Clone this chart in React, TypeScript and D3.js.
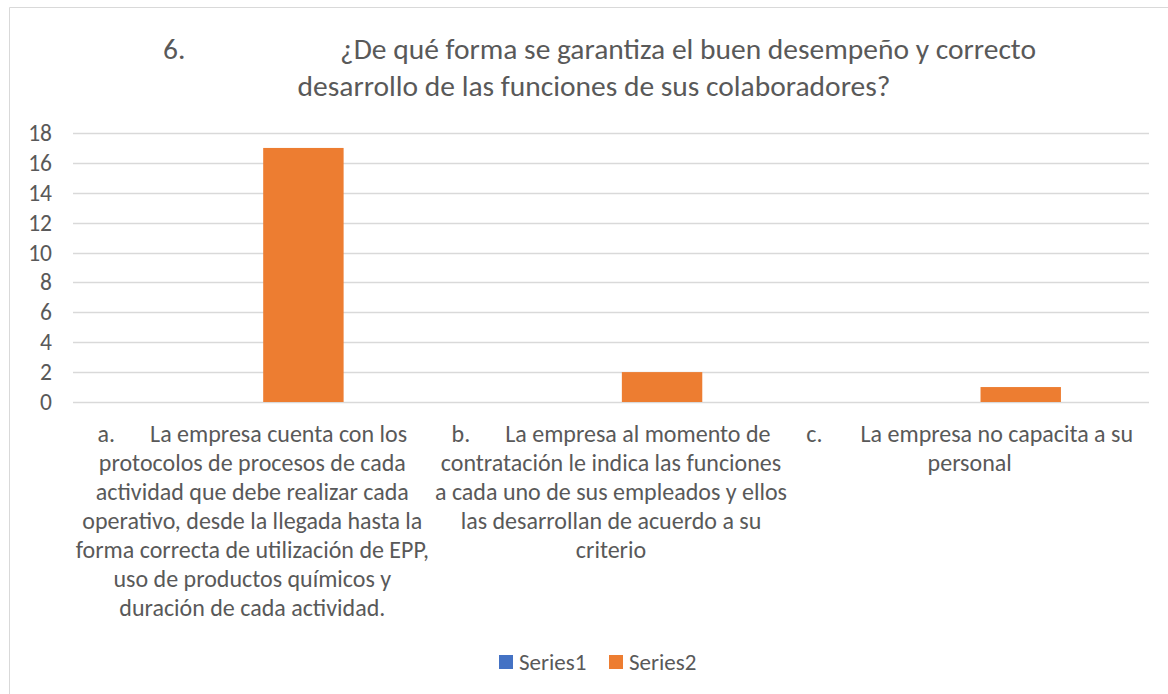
import React from "react";
import * as d3 from "d3";

const titleNumber = "6.";
const titleLines = [
  "¿De qué forma se garantiza el buen desempeño y correcto",
  "desarrollo de las funciones de sus colaboradores?",
];
const categoryMarkers = ["a.", "b.", "c."];
const categoryLines = [
  [
    "La empresa cuenta con los",
    "protocolos de procesos de cada",
    "actividad que debe realizar cada",
    "operativo, desde la llegada hasta la",
    "forma correcta de utilización de EPP,",
    "uso de productos químicos y",
    "duración de cada actividad.",
  ],
  [
    "La empresa al momento de",
    "contratación le indica las funciones",
    "a cada uno de sus empleados y ellos",
    "las desarrollan de acuerdo a su",
    "criterio",
  ],
  ["La empresa no capacita a su", "personal"],
];
const seriesNames = ["Series1", "Series2"];
const series1 = [0, 0, 0];
const series2 = [17, 2, 1];
const yTicks = [0, 2, 4, 6, 8, 10, 12, 14, 16, 18];
const colors = ["#4472C4", "#ED7D31"];

const FONT = "Carlito, Lato, 'Open Sans', sans-serif";
const TEXT = "#595959";

export default function App() {
  const W = 1168;
  const H = 694;
  const plot = { left: 73, right: 1149, top: 133, bottom: 402 };
  const x = d3
    .scaleBand<number>()
    .domain(d3.range(categoryLines.length))
    .range([plot.left, plot.right])
    .paddingInner(0)
    .paddingOuter(0);
  const y = d3.scaleLinear().domain([0, 18]).range([plot.bottom, plot.top]);
  const bw = x.bandwidth() / (2 + 0.27 + 2.19);
  const seriesData = [series1, series2];

  return (
    <svg
      width={W}
      height={H}
      style={{ position: "absolute", left: 0, top: 0, background: "#fff" }}
      fontFamily={FONT}
    >
      <rect x={0} y={0} width={W} height={H} fill="#fff" />
      <line x1={9.5} x2={W} y1={7.5} y2={7.5} stroke="#d9d9d9" />
      <line x1={9.5} x2={9.5} y1={7.5} y2={H} stroke="#d9d9d9" />

      {/* title */}
      <text x={163} y={59} fontSize={29.5} fill={TEXT}>
        {titleNumber}
      </text>
      <text x={340} y={59} fontSize={29.5} fill={TEXT}>
        {titleLines[0]}
      </text>
      <text x={594} y={96} fontSize={29.5} fill={TEXT} textAnchor="middle">
        {titleLines[1]}
      </text>

      {/* grid + y ticks */}
      {yTicks.map((t) => (
        <g key={t}>
          <line
            x1={plot.left}
            x2={plot.right}
            y1={Math.round(y(t)) + 0.5}
            y2={Math.round(y(t)) + 0.5}
            stroke="#d9d9d9"
            strokeWidth={1.3}
          />
          <text
            x={52}
            y={y(t) + 8}
            fontSize={23.5}
            fill={TEXT}
            textAnchor="end"
          >
            {t}
          </text>
        </g>
      ))}

      {/* bars */}
      {seriesData.map((vals, si) =>
        vals.map((v, ci) => {
          const cx = (x(ci) as number) + x.bandwidth() / 2;
          const bx = cx - 1.135 * bw + si * 1.27 * bw;
          return (
            <rect
              key={`${si}-${ci}`}
              x={bx}
              y={y(v)}
              width={bw}
              height={y(0) - y(v)}
              fill={colors[si]}
            />
          );
        })
      )}

      {/* category labels */}
      {categoryLines.map((lines, ci) => {
        const cx = (x(ci) as number) + x.bandwidth() / 2;
        return (
          <g key={ci} fontSize={24} fill={TEXT}>
            {lines.map((ln, li) =>
              li === 0 ? (
                <text key={li} x={cx} y={442} textAnchor="middle">
                  <tspan>{categoryMarkers[ci]}</tspan>
                  <tspan dx={ci === 2 ? 38 : 35}>{ln}</tspan>
                </text>
              ) : (
                <text key={li} x={cx} y={442 + li * 29} textAnchor="middle">
                  {ln}
                </text>
              )
            )}
          </g>
        );
      })}

      {/* legend */}
      {seriesNames.map((s, i) => (
        <g key={s} transform={`translate(${499 + i * 110},655)`}>
          <rect x={0} y={0} width={14} height={14} fill={colors[i]} />
          <text x={20} y={15} fontSize={23} fill={TEXT}>
            {s}
          </text>
        </g>
      ))}
    </svg>
  );
}
